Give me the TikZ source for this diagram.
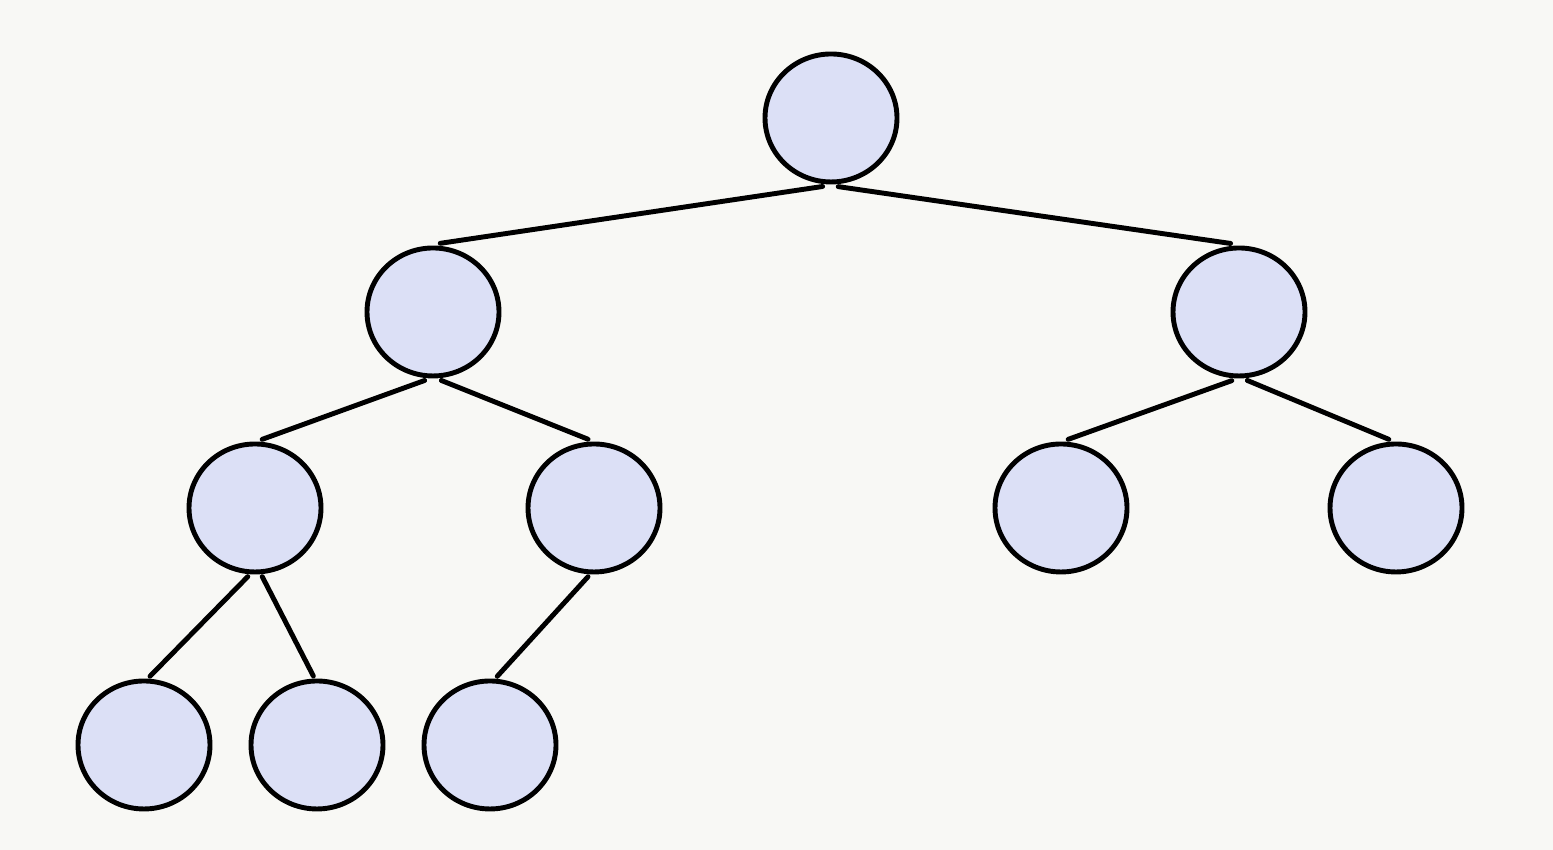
\documentclass[tikz,border=0pt]{standalone}
\usetikzlibrary{shapes.geometric}
\definecolor{nodefill}{HTML}{DCE0F6}
\definecolor{paper}{HTML}{F8F8F5}
\tikzset{
  treenode/.style={ellipse, draw=black, line width=1.4pt, fill=nodefill,
    minimum width=1.32cm, minimum height=1.28cm, inner sep=0pt, outer sep=0.05cm},
  branch/.style={line width=1.4pt, line cap=round}
}
\begin{document}
\begin{tikzpicture}
  % Background
  \fill[paper] (0,0) rectangle (15.53,8.5);
  \useasboundingbox (0,0) rectangle (15.53,8.5);

  % Nodes
  \node[treenode] (root) at (8.31, 7.32) {};
  \node[treenode] (l) at (4.33, 5.38) {};
  \node[treenode] (r) at (12.39, 5.38) {};
  \node[treenode] (ll) at (2.55, 3.42) {};
  \node[treenode] (lr) at (5.94, 3.42) {};
  \node[treenode] (rl) at (10.61, 3.42) {};
  \node[treenode] (rr) at (13.96, 3.42) {};
  \node[treenode] (lll) at (1.44, 1.05) {};
  \node[treenode] (llr) at (3.17, 1.05) {};
  \node[treenode] (lrl) at (4.90, 1.05) {};

  % Edges
  \draw[branch] (root.-97) -- (l.84);
  \draw[branch] (root.-84) -- (r.97);
  \draw[branch] (l.-97) -- (ll.84);
  \draw[branch] (l.-83) -- (lr.95);
  \draw[branch] (r.-96) -- (rl.84);
  \draw[branch] (r.-83) -- (rr.96);
  \draw[branch] (ll.-96) -- (lll.85);
  \draw[branch] (ll.-84) -- (llr.93);
  \draw[branch] (lr.-95) -- (lrl.84);
\end{tikzpicture}
\end{document}
